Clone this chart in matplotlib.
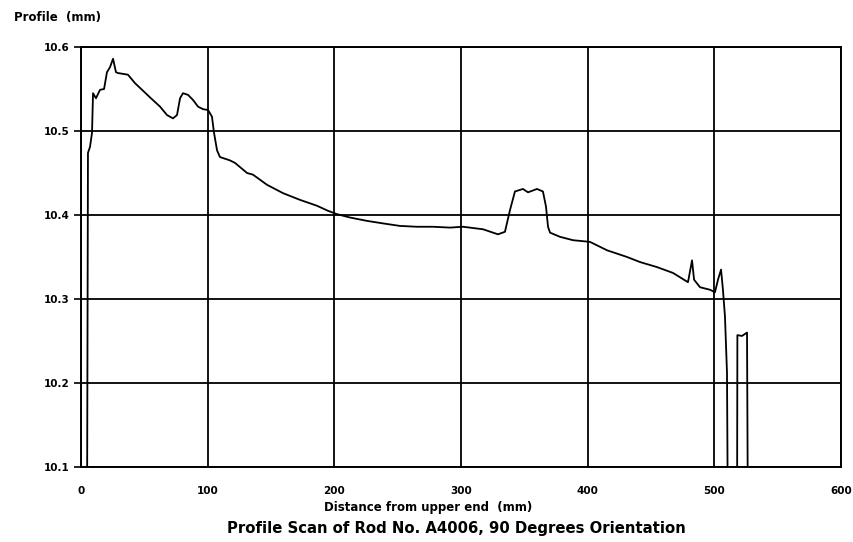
import matplotlib
matplotlib.use("Agg")
import matplotlib.pyplot as plt

# Distance from upper end (mm)
distance = [4.7, 5.5, 7.1, 8.7, 9.5, 11.8, 15.0, 18.2, 20.5, 22.9, 25.3, 27.6, 29.2,
            37.1, 42.6, 54.5, 62.4, 67.9, 72.6, 75.8, 78.2, 80.5, 84.5, 88.4, 92.4,
            96.3, 100.3, 103.4, 105.0, 107.4, 109.7, 117.6, 121.6, 131.1, 135.8,
            146.8, 159.5, 172.9, 186.3, 195.0, 202.1, 212.4, 225.8, 238.4, 251.8,
            265.3, 277.9, 291.3, 301.6, 317.4, 329.2, 334.7, 338.7, 342.6, 348.9,
            352.9, 360.0, 364.7, 367.1, 368.7, 370.3, 378.2, 388.4, 401.8, 415.3,
            431.1, 441.3, 454.7, 467.4, 479.2, 482.4, 484.0, 488.7, 496.6, 500.5,
            502.9, 505.3, 506.8, 508.4, 510.0, 510.8, 517.9, 518.2, 521.8, 525.8,
            526.6]
# Profile (mm)
profile = [10.0, 10.474, 10.481, 10.498, 10.545, 10.539, 10.549, 10.550, 10.570,
           10.576, 10.586, 10.570, 10.569, 10.567, 10.557, 10.540, 10.529, 10.519,
           10.515, 10.519, 10.539, 10.545, 10.543, 10.537, 10.529, 10.526, 10.525,
           10.517, 10.498, 10.477, 10.469, 10.465, 10.462, 10.450, 10.448, 10.436,
           10.426, 10.418, 10.411, 10.405, 10.401, 10.397, 10.393, 10.390, 10.387,
           10.386, 10.386, 10.385, 10.386, 10.383, 10.377, 10.380, 10.406, 10.428,
           10.431, 10.427, 10.431, 10.428, 10.410, 10.386, 10.379, 10.374, 10.370,
           10.368, 10.358, 10.350, 10.344, 10.338, 10.331, 10.320, 10.346, 10.323,
           10.314, 10.311, 10.308, 10.323, 10.335, 10.311, 10.279, 10.212, 10.0,
           10.0, 10.257, 10.256, 10.260, 10.0]

x_ticks = [0, 100, 200, 300, 400, 500, 600]
y_ticks = [10.1, 10.2, 10.3, 10.4, 10.5, 10.6]
y_tick_labels = ["10.1", "10.2", "10.3", "10.4", "10.5", "10.6"]

plt.rcParams['font.family'] = ['DejaVu Sans']
plt.rcParams['font.weight'] = 'bold'

fig = plt.figure(figsize=(8.54, 5.42), dpi=100)
ax = fig.add_axes([81/854, 1-467/542, 760/854, 420/542])

ax.plot(distance, profile, color='black', lw=1.3, clip_on=True)

ax.set_xlim(0, 600)
ax.set_ylim(10.1, 10.6)
ax.set_xticks(x_ticks)
ax.set_xticklabels([str(v) for v in x_ticks], fontsize=7.5, fontweight='bold')
ax.set_yticks(y_ticks)
ax.set_yticklabels(y_tick_labels, fontsize=7.5, fontweight='bold')
ax.tick_params(axis='x', length=0, pad=14)
ax.tick_params(axis='y', length=5, width=1.2, pad=3)
ax.grid(True, color='black', lw=1.3)
for s in ax.spines.values():
    s.set_linewidth(1.4)

fig.text(428/854, 1-507/542, "Distance from upper end  (mm)", fontsize=8.5,
         fontweight='bold', ha='center', va='center')
fig.text(14/854, 1-18/542, "Profile  (mm)", fontsize=8.5, fontweight='bold',
         ha='left', va='center')
fig.text(456/854, 1-528/542, "Profile Scan of Rod No. A4006, 90 Degrees Orientation",
         fontsize=10.7, fontweight='bold', ha='center', va='center')

fig.savefig("out.png", dpi=100, facecolor='white')
